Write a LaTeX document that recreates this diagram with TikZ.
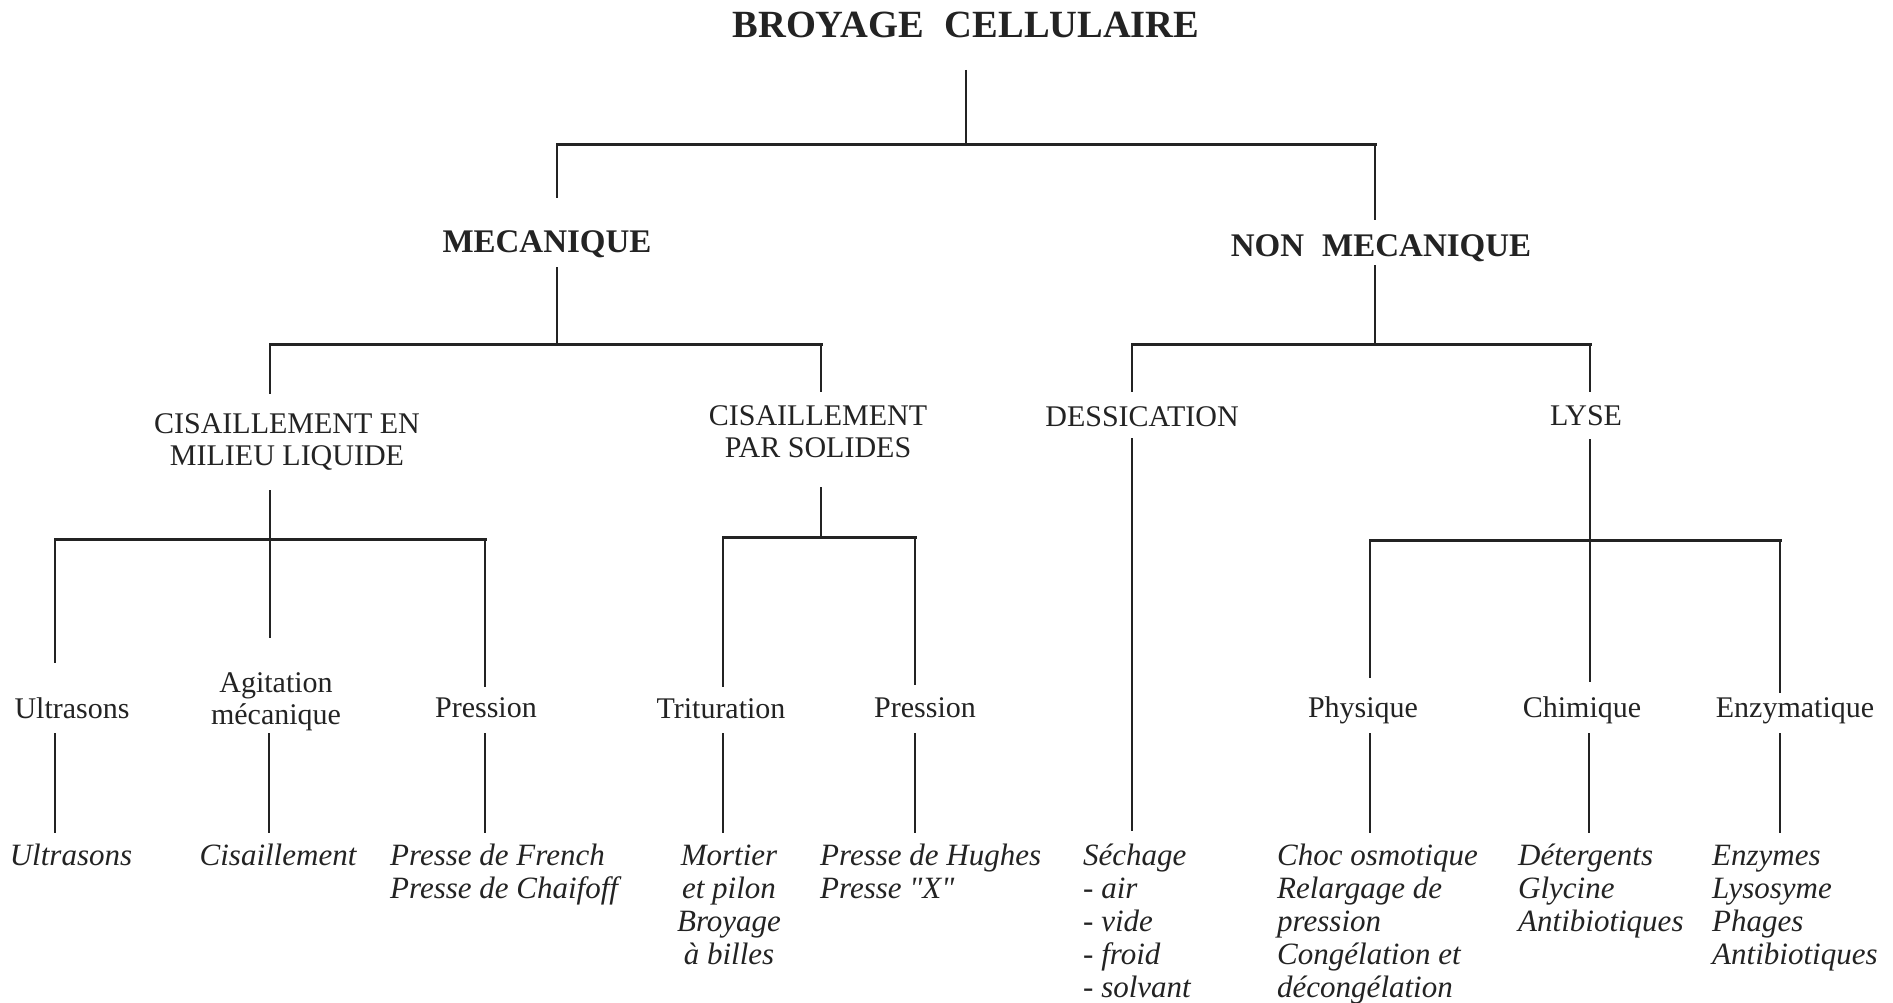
\documentclass[tikz,border=0pt]{standalone}
\usepackage{fontspec}
\setmainfont{Liberation Serif}
\newfontfamily\rawserif{Liberation Serif}
\newcommand\mylines[2]{\begin{tabular}[t]{@{}#1@{}}#2\end{tabular}}
\definecolor{ink}{RGB}{35,35,35}
\begin{document}
\begin{tikzpicture}[x=1pt,y=-1pt,
  lbl/.style={inner sep=0pt,text=ink,font=\fontsize{30}{32}\selectfont},
  ital/.style={inner sep=0pt,text=ink,font=\fontsize{31}{33}\selectfont\itshape},
  head/.style={inner sep=0pt,text=ink,font=\fontsize{33}{36}\selectfont\bfseries},
  ttl/.style={inner sep=0pt,text=ink,font=\fontsize{38.5}{40}\selectfont\bfseries},
  vline/.style={draw=ink,line width=1.8pt},
  hbar/.style={draw=ink,line width=3pt,line cap=rect}]
\useasboundingbox[fill=white] (0,0) rectangle (1893,1003);
\renewcommand\arraystretch{1}
% ---- texts
\node[ttl,anchor=base] (title) at (966,38) {BROYAGE\hspace{0.55em}CELLULAIRE};
\node[head,anchor=base] (mec) at (547,252) {MECANIQUE};
\node[head,anchor=base] (nmec) at (1381,256) {NON\hspace{0.55em}MECANIQUE};
\node[lbl,anchor=base] (cml) at (287,433) {\mylines{c}{CISAILLEMENT EN\\MILIEU LIQUIDE}};
\node[lbl,anchor=base] (cps) at (818,425) {\mylines{c}{CISAILLEMENT\\PAR SOLIDES}};
\node[lbl,anchor=base] (dess) at (1142,426) {DESSICATION};
\node[lbl,anchor=base] (lyse) at (1586,425) {LYSE};
\node[lbl,anchor=base] (ultra) at (72,718) {Ultrasons};
\node[lbl,anchor=base] (agit) at (276,692) {\mylines{c}{Agitation\\mécanique}};
\node[lbl,anchor=base] (pres1) at (486,717) {Pression};
\node[lbl,anchor=base] (trit) at (721,718) {Trituration};
\node[lbl,anchor=base] (pres2) at (925,717) {Pression};
\node[lbl,anchor=base] (phys) at (1363,717) {Physique};
\node[lbl,anchor=base] (chim) at (1582,717) {Chimique};
\node[lbl,anchor=base] (enz) at (1795,717) {Enzymatique};
\node[ital,anchor=base] (iultra) at (71,865) {Ultrasons};
\node[ital,anchor=base] (icis) at (278,865) {Cisaillement};
\node[ital,anchor=base west] (ifr) at (390,865) {\mylines{l}{Presse de French\\Presse de Chaifoff}};
\node[ital,anchor=base] (imort) at (729,865) {\mylines{c}{Mortier\\et pilon\\Broyage\\à billes}};
\node[ital,anchor=base west] (ihug) at (820,865) {\mylines{l}{Presse de Hughes\\Presse {\rawserif\itshape "X"}}};
\node[ital,anchor=base west] (isech) at (1083,865) {\mylines{l}{Séchage\\- air\\- vide\\- froid\\- solvant}};
\node[ital,anchor=base west] (ichoc) at (1277,865) {\mylines{l}{Choc osmotique\\Relargage de\\pression\\Congélation et\\décongélation}};
\node[ital,anchor=base west] (idet) at (1518,865) {\mylines{l}{Détergents\\Glycine\\Antibiotiques}};
\node[ital,anchor=base west] (ienz) at (1712,865) {\mylines{l}{Enzymes\\Lysosyme\\Phages\\Antibiotiques}};
% ---- junction coordinates
\coordinate (tS) at (966,70);   \coordinate (tJ) at (966,145);
\coordinate (b1L) at (557,145); \coordinate (b1R) at (1375,145);
\coordinate (mecN) at (557,198); \coordinate (nmecN) at (1375,220);
\coordinate (mecS) at (557,267); \coordinate (mecJ) at (557,344);
\coordinate (nmecS) at (1375,265); \coordinate (nmecJ) at (1375,344);
\coordinate (b2aL) at (270,344); \coordinate (b2aR) at (821,344);
\coordinate (b2bL) at (1132,344); \coordinate (b2bR) at (1590,344);
\coordinate (cmlN) at (270,394); \coordinate (cpsN) at (821,392);
\coordinate (dessN) at (1132,392); \coordinate (lyseN) at (1590,392);
\coordinate (cmlS) at (270,490); \coordinate (cpsS) at (821,487);
\coordinate (dessS) at (1132,438); \coordinate (dessE) at (1132,831);
\coordinate (lyseS) at (1590,439);
\coordinate (b3aL) at (55,539); \coordinate (b3aR) at (485,539);
\coordinate (b3bL) at (723,537); \coordinate (b3bR) at (915,537);
\coordinate (b3cL) at (1370,540); \coordinate (b3cR) at (1780,540);
\coordinate (cmlJ) at (270,539); \coordinate (cpsJ) at (821,537); \coordinate (lyseJ) at (1590,540);
\coordinate (ultraN) at (55,663); \coordinate (agitN) at (270,638); \coordinate (pres1N) at (485,687);
\coordinate (tritN) at (723,687); \coordinate (pres2N) at (915,685);
\coordinate (physN) at (1370,678); \coordinate (chimN) at (1590,682); \coordinate (enzN) at (1780,693);
\foreach \n/\x in {u/55,a/269,p/485,t/723,q/915,f/1370,c/1589,e/1780}{
  \coordinate (lo\n1) at (\x,733); \coordinate (lo\n2) at (\x,833);}
% ---- connectors
\draw[vline] (tS) -- (tJ);
\draw[hbar] (b1L) -- (b1R);
\draw[vline] (b1L) -- (mecN);
\draw[vline] (b1R) -- (nmecN);
\draw[vline] (mecS) -- (mecJ);
\draw[vline] (nmecS) -- (nmecJ);
\draw[hbar] (b2aL) -- (b2aR);
\draw[hbar] (b2bL) -- (b2bR);
\draw[vline] (b2aL) -- (cmlN);
\draw[vline] (b2aR) -- (cpsN);
\draw[vline] (b2bL) -- (dessN);
\draw[vline] (b2bR) -- (lyseN);
\draw[vline] (cmlS) -- (agitN);
\draw[vline] (cpsS) -- (cpsJ);
\draw[vline] (dessS) -- (dessE);
\draw[vline] (lyseS) -- (chimN);
\draw[hbar] (b3aL) -- (b3aR);
\draw[hbar] (b3bL) -- (b3bR);
\draw[hbar] (b3cL) -- (b3cR);
\draw[vline] (b3aL) -- (ultraN);
\draw[vline] (b3aR) -- (pres1N);
\draw[vline] (b3bL) -- (tritN);
\draw[vline] (b3bR) -- (pres2N);
\draw[vline] (b3cL) -- (physN);
\draw[vline] (b3cR) -- (enzN);
\foreach \n in {u,a,p,t,q,f,c,e}{\draw[vline] (lo\n1) -- (lo\n2);}
\end{tikzpicture}
\end{document}
